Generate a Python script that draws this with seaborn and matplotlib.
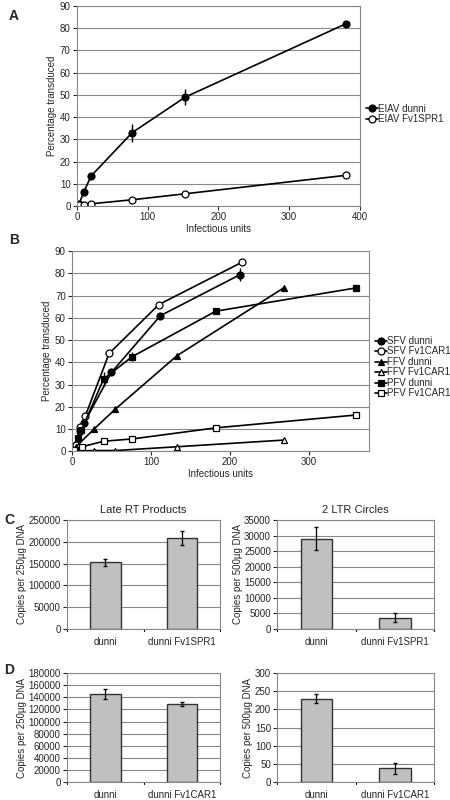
import matplotlib
matplotlib.use("Agg")
import matplotlib.pyplot as plt
import seaborn as sns
import pandas as pd

sns.set_style("white")
plt.rcParams['font.family'] = ['Liberation Sans', 'DejaVu Sans']
plt.rcParams['font.size'] = 7

# Panel A
a_x_dunni = [3, 10, 20, 78, 153, 380]
a_y_dunni = [1, 6.5, 13.5, 33, 49, 82]
a_err_dunni = [0, 0, 0, 4, 3.5, 0]
a_x_spr = [3, 10, 20, 78, 153, 380]
a_y_spr = [0.5, 0.5, 1, 2.8, 5.5, 13.8]

# Panel B
sfv_d_x = [5, 10, 15, 50, 112, 213]
sfv_d_y = [3, 9, 12.5, 35.5, 61, 79.5]
sfv_d_err = [0, 0, 0, 0, 0, 3]
sfv_c_x = [5, 10, 17, 47, 110, 215]
sfv_c_y = [3, 11, 16, 44, 66, 85]
ffv_d_x = [5, 28, 55, 133, 268]
ffv_d_y = [2, 10, 19, 43, 73.5]
ffv_c_x = [3, 28, 55, 133, 268]
ffv_c_y = [0, 0.3, 0.3, 2, 5]
pfv_d_x = [7, 12, 40, 76, 182, 360]
pfv_d_y = [6, 9.5, 32.5, 42.5, 63, 73.5]
pfv_d_err = [0, 0, 3, 2, 0, 0]
pfv_c_x = [3, 13, 40, 76, 182, 360]
pfv_c_y = [0.5, 2, 4.5, 5.5, 10.5, 16.3]

# Panels C/D
c_rt_cats = ["dunni", "dunni Fv1SPR1"]
c_rt_vals = [153000, 208000]
c_rt_err = [8000, 16000]
c_ltr_vals = [29000, 3600]
c_ltr_err = [3800, 1400]
d_rt_cats = ["dunni", "dunni Fv1CAR1"]
d_rt_vals = [146000, 129000]
d_rt_err = [8000, 3000]
d_ltr_vals = [230, 38]
d_ltr_err = [12, 15]

fig = plt.figure(figsize=(4.5, 8), dpi=100)


def style(ax):
    ax.grid(axis='y', color='#888888', lw=0.8)
    ax.set_axisbelow(True)
    for s in ax.spines.values():
        s.set_color('#888888')
    ax.tick_params(length=3, pad=1.5, labelsize=7, direction='out', left=True, bottom=True)


def series(ax, x, y, marker, filled, label, err=None):
    sns.lineplot(x=x, y=y, ax=ax, color='black', lw=1.2, marker=marker, markersize=5,
                 markerfacecolor='black' if filled else 'white', markeredgecolor='black',
                 markeredgewidth=0.9, label=label, sort=False)
    if err is not None:
        ax.errorbar(x, y, yerr=err, fmt='none', ecolor='black', lw=1)


axA = fig.add_axes([0.171, 0.7425, 0.629, 0.25])
series(axA, a_x_dunni, a_y_dunni, 'o', True, 'EIAV dunni', a_err_dunni)
series(axA, a_x_spr, a_y_spr, 'o', False, 'EIAV Fv1SPR1')
axA.set_xlim(0, 400)
axA.set_ylim(0, 90)
axA.set_yticks(range(0, 91, 10))
axA.set_xticks(range(0, 401, 100))
axA.set_xlabel("Infectious units", fontsize=7, labelpad=1)
axA.set_ylabel("Percentage transduced", fontsize=7, labelpad=2)
style(axA)
axA.legend(loc='center left', bbox_to_anchor=(1.0, 0.46), frameon=False, fontsize=7,
           handlelength=1.2, handletextpad=0.1, labelspacing=0.1, borderaxespad=0.2)
fig.text(0.02, 0.975, "A", fontsize=10, fontweight='bold')

axB = fig.add_axes([0.16, 0.436, 0.66, 0.25])
series(axB, sfv_d_x, sfv_d_y, 'o', True, 'SFV dunni', sfv_d_err)
series(axB, sfv_c_x, sfv_c_y, 'o', False, 'SFV Fv1CAR1')
series(axB, ffv_d_x, ffv_d_y, '^', True, 'FFV dunni')
series(axB, ffv_c_x, ffv_c_y, '^', False, 'FFV Fv1CAR1')
series(axB, pfv_d_x, pfv_d_y, 's', True, 'PFV dunni', pfv_d_err)
series(axB, pfv_c_x, pfv_c_y, 's', False, 'PFV Fv1CAR1')
axB.set_xlim(0, 376)
axB.set_ylim(0, 90)
axB.set_yticks(range(0, 91, 10))
axB.set_xticks(range(0, 301, 100))
axB.set_xlabel("Infectious units", fontsize=7, labelpad=1)
axB.set_ylabel("Percentage transduced", fontsize=7, labelpad=2)
style(axB)
axB.legend(loc='center left', bbox_to_anchor=(1.0, 0.42), frameon=False, fontsize=7,
           handlelength=1.2, handletextpad=0.1, labelspacing=0.05, borderaxespad=0.2)
fig.text(0.02, 0.695, "B", fontsize=10, fontweight='bold')


def bars(rect, cats, vals, err, ymax, step, ylabel, title=None):
    ax = fig.add_axes(rect)
    df = pd.DataFrame({"cat": cats, "val": vals})
    sns.barplot(data=df, x="cat", y="val", ax=ax, color='#c0c0c0', width=0.4,
                edgecolor='#333333', linewidth=1, saturation=1)
    ax.errorbar(range(len(cats)), vals, yerr=err, fmt='none', ecolor='black', lw=0.9, capsize=1.2)
    ax.set_xlim(-0.5, len(cats) - 0.5)
    ax.set_ylim(0, ymax)
    ax.set_yticks(range(0, ymax + 1, step))
    ax.set_xlabel("")
    ax.set_ylabel(ylabel, fontsize=7, labelpad=1)
    ax.set_xticks([-0.5, 0, 0.5, 1, 1.5], ["", cats[0], "", cats[1], ""])
    style(ax)
    ax.tick_params(axis='x', length=0, pad=6)
    for t in [-0.5, 0.5, 1.5]:
        ax.plot([t, t], [0, -0.02 * ymax], color='black', lw=0.8, clip_on=False)
    if title:
        ax.set_title(title, fontsize=8, pad=5)
    return ax


bars([0.149, 0.214, 0.34, 0.136], c_rt_cats, c_rt_vals, c_rt_err, 250000, 50000,
     "Copies per 250µg DNA", "Late RT Products")
bars([0.616, 0.214, 0.349, 0.136], c_rt_cats, c_ltr_vals, c_ltr_err, 35000, 5000,
     "Copies per 500µg DNA", "2 LTR Circles")
bars([0.149, 0.0225, 0.34, 0.136], d_rt_cats, d_rt_vals, d_rt_err, 180000, 20000,
     "Copies per 250µg DNA")
bars([0.616, 0.0225, 0.349, 0.136], d_rt_cats, d_ltr_vals, d_ltr_err, 300, 50,
     "Copies per 500µg DNA")
fig.text(0.01, 0.345, "C", fontsize=10, fontweight='bold')
fig.text(0.01, 0.158, "D", fontsize=10, fontweight='bold')

fig.savefig("out.png", dpi=100)
